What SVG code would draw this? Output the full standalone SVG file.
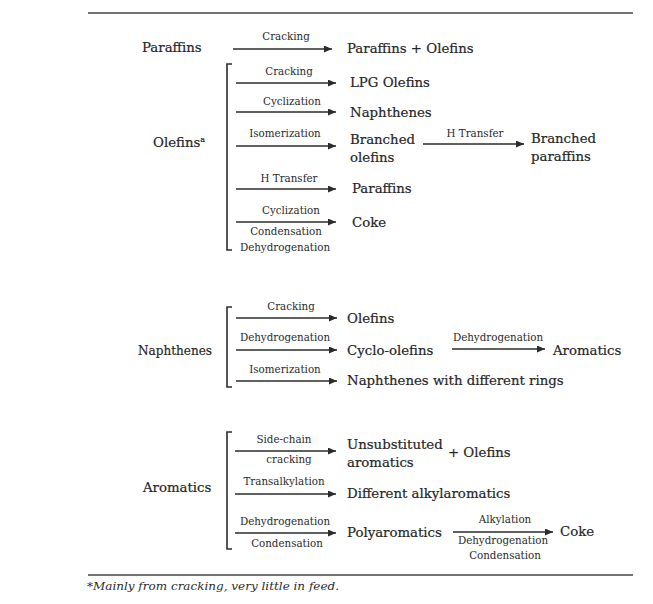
<svg xmlns="http://www.w3.org/2000/svg" width="653" height="604" viewBox="0 0 653 604">
<defs>
<style>
.t{font-family:"DejaVu Serif","Liberation Serif",serif;font-size:13.3px;fill:#262626;stroke:#262626;stroke-width:0.2px}
.s{font-family:"DejaVu Serif","Liberation Serif",serif;font-size:10.3px;fill:#2b2b2b;text-anchor:middle}
.f{font-family:"DejaVu Serif","Liberation Serif",serif;font-size:11px;font-style:italic;fill:#2b2b2b}
.a{stroke:#2b2b2b;stroke-width:1.5;fill:none;marker-end:url(#ah)}
.br{stroke:#2b2b2b;stroke-width:1.6;fill:none}
.rule{stroke:#444;stroke-width:1.4}
</style>
<marker id="ah" markerUnits="userSpaceOnUse" markerWidth="8" markerHeight="7" refX="8" refY="3.5" orient="auto">
<path d="M0,0 L8,3.5 L0,7 z" fill="#2b2b2b"/>
</marker>
</defs>
<rect width="653" height="604" fill="#ffffff"/>
<line class="rule" x1="88" y1="13" x2="633" y2="13"/>
<line class="rule" x1="88" y1="575" x2="633" y2="575"/>

<g id="connectors">
<line class="a" x1="233" y1="49" x2="332" y2="49"/>
<path class="br" d="M232,64 L227,64 L227,250 L232,250"/>
<line class="a" x1="236" y1="83" x2="336" y2="83"/>
<line class="a" x1="236" y1="112" x2="336" y2="112"/>
<line class="a" x1="236" y1="146" x2="336" y2="146"/>
<line class="a" x1="423" y1="144" x2="524" y2="144"/>
<line class="a" x1="236" y1="189" x2="336" y2="189"/>
<line class="a" x1="236" y1="222" x2="336" y2="222"/>
<path class="br" d="M232,307 L227,307 L227,387 L232,387"/>
<line class="a" x1="236" y1="318" x2="337" y2="318"/>
<line class="a" x1="236" y1="350" x2="337" y2="350"/>
<line class="a" x1="452" y1="349" x2="545" y2="349"/>
<line class="a" x1="236" y1="381" x2="337" y2="381"/>
<path class="br" d="M232,432 L227,432 L227,549 L232,549"/>
<line class="a" x1="235" y1="451" x2="336" y2="451"/>
<line class="a" x1="235" y1="494" x2="336" y2="494"/>
<line class="a" x1="235" y1="533" x2="336" y2="533"/>
<line class="a" x1="453" y1="532" x2="553" y2="532"/>
</g>

<g id="edge-labels">
<text class="s" x="286" y="40">Cracking</text>
<text class="s" x="289" y="75">Cracking</text>
<text class="s" x="292" y="105">Cyclization</text>
<text class="s" x="285" y="137">Isomerization</text>
<text class="s" x="475" y="137">H Transfer</text>
<text class="s" x="289" y="182">H Transfer</text>
<text class="s" x="291" y="214">Cyclization</text>
<text class="s" x="286" y="235">Condensation</text>
<text class="s" x="285" y="251">Dehydrogenation</text>
<text class="s" x="291" y="310">Cracking</text>
<text class="s" x="285" y="341">Dehydrogenation</text>
<text class="s" x="498" y="341">Dehydrogenation</text>
<text class="s" x="285" y="373">Isomerization</text>
<text class="s" x="284" y="443">Side-chain</text>
<text class="s" x="289" y="463">cracking</text>
<text class="s" x="284" y="485">Transalkylation</text>
<text class="s" x="285" y="525">Dehydrogenation</text>
<text class="s" x="287" y="547">Condensation</text>
<text class="s" x="505" y="523">Alkylation</text>
<text class="s" x="503" y="544">Dehydrogenation</text>
<text class="s" x="505" y="559">Condensation</text>
</g>

<g id="paraffins"><text class="t" x="142" y="52">Paraffins</text></g>
<g id="paraffins-olefins"><text class="t" x="347" y="53">Paraffins + Olefins</text></g>
<g id="olefins"><text class="t" x="153" y="147">Olefins<tspan font-size="8" dy="-5">a</tspan></text></g>
<g id="lpg-olefins"><text class="t" x="350" y="87">LPG Olefins</text></g>
<g id="naphthenes-1"><text class="t" x="350" y="117">Naphthenes</text></g>
<g id="branched-olefins"><text class="t" x="350" y="144">Branched</text><text class="t" x="350" y="162">olefins</text></g>
<g id="branched-paraffins"><text class="t" x="531" y="143">Branched</text><text class="t" x="531" y="161">paraffins</text></g>
<g id="paraffins-2"><text class="t" x="352" y="193">Paraffins</text></g>
<g id="coke-1"><text class="t" x="352" y="227">Coke</text></g>
<g id="naphthenes"><text class="t" x="138" y="355" textLength="74" lengthAdjust="spacingAndGlyphs">Naphthenes</text></g>
<g id="olefins-2"><text class="t" x="347" y="323">Olefins</text></g>
<g id="cyclo-olefins"><text class="t" x="347" y="355">Cyclo-olefins</text></g>
<g id="aromatics-1"><text class="t" x="553" y="355">Aromatics</text></g>
<g id="naphthenes-rings"><text class="t" x="347" y="385">Naphthenes with different rings</text></g>
<g id="aromatics"><text class="t" x="143" y="492">Aromatics</text></g>
<g id="unsubstituted"><text class="t" x="347" y="449">Unsubstituted</text><text class="t" x="347" y="467">aromatics</text><text class="t" x="448" y="457">+ Olefins</text></g>
<g id="alkylaromatics"><text class="t" x="347" y="498">Different alkylaromatics</text></g>
<g id="polyaromatics"><text class="t" x="347" y="537">Polyaromatics</text></g>
<g id="coke-2"><text class="t" x="560" y="536">Coke</text></g>

<g id="footnote"><text class="f" x="87" y="590" textLength="252" lengthAdjust="spacingAndGlyphs">*Mainly from cracking, very little in feed.</text></g>
</svg>
